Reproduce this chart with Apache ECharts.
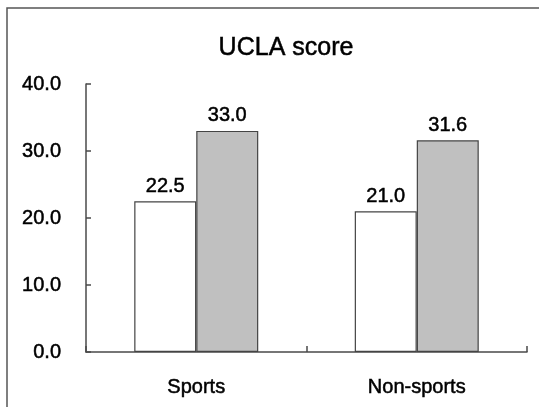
<!DOCTYPE html>
<html>
<head>
<meta charset="utf-8">
<script src="https://cdn.jsdelivr.net/npm/echarts@6/dist/echarts.min.js"></script>
<style>
  html, body { margin: 0; padding: 0; background: #fff; }
  #chart { width: 539px; height: 407px; }
</style>
</head>
<body>
<div id="chart"></div>
<script>
// UCLA loneliness score by group
const titleText = 'UCLA score';
const categories = ['Sports', 'Non-sports'];
const whiteSeries = [22.5, 21.0];
const graySeries = [33.0, 31.6];
const yTicks = { min: 0, max: 40, interval: 10 };

const FONT = 'Liberation Sans, Arial, Helvetica, sans-serif';
const AXIS_COLOR = '#4a4a4a';
const TEXT_COLOR = '#000';
// slight outline gives the text a heavier stroke
const textWeight = { textBorderColor: TEXT_COLOR, textBorderWidth: 0.5 };

const chart = echarts.init(document.getElementById('chart'), null, { renderer: 'canvas' });

const labelStyle = Object.assign({
  show: true,
  position: 'top',
  distance: 5,
  color: TEXT_COLOR,
  fontFamily: FONT,
  fontSize: 20,
  formatter: p => p.value.toFixed(1)
}, textWeight);

chart.setOption({
  animation: false,
  backgroundColor: '#fff',
  graphic: [
    {
      // frame along the top and left edges
      type: 'polyline',
      shape: { points: [[7, 407], [7, 8], [539, 8]] },
      style: { stroke: '#555', lineWidth: 1.5, fill: null },
      silent: true
    },
    {
      type: 'text',
      x: 286,
      y: 48,
      style: {
        text: titleText,
        fontFamily: FONT,
        fontSize: 25,
        fill: TEXT_COLOR,
        stroke: TEXT_COLOR,
        lineWidth: 0.5,
        align: 'center',
        verticalAlign: 'middle'
      }
    }
  ],
  grid: { left: 86, right: 12, top: 84, bottom: 55, containLabel: false },
  xAxis: {
    type: 'category',
    data: categories,
    boundaryGap: true,
    axisLine: { lineStyle: { color: AXIS_COLOR, width: 1.5 } },
    axisTick: { show: true, inside: true, length: 6, alignWithLabel: false, lineStyle: { color: AXIS_COLOR, width: 1.5 } },
    axisLabel: Object.assign({ color: TEXT_COLOR, fontFamily: FONT, fontSize: 20, margin: 25 }, textWeight),
    splitLine: { show: false }
  },
  yAxis: {
    type: 'value',
    min: yTicks.min,
    max: yTicks.max,
    interval: yTicks.interval,
    axisLine: { show: true, lineStyle: { color: AXIS_COLOR, width: 1.5 } },
    axisTick: { show: true, inside: true, length: 5, lineStyle: { color: AXIS_COLOR, width: 1.5 } },
    axisLabel: Object.assign({ color: TEXT_COLOR, fontFamily: FONT, fontSize: 20, margin: 25, formatter: v => v.toFixed(1) }, textWeight),
    splitLine: { show: false }
  },
  series: [
    {
      type: 'bar',
      data: whiteSeries,
      barWidth: 62,
      barGap: '0%',
      itemStyle: { color: '#ffffff', borderColor: '#444', borderWidth: 1.2 },
      label: labelStyle
    },
    {
      type: 'bar',
      data: graySeries,
      barWidth: 62,
      barGap: '0%',
      itemStyle: { color: '#c0c0c0', borderColor: '#444', borderWidth: 1.2 },
      label: labelStyle
    }
  ]
});
</script>
</body>
</html>
